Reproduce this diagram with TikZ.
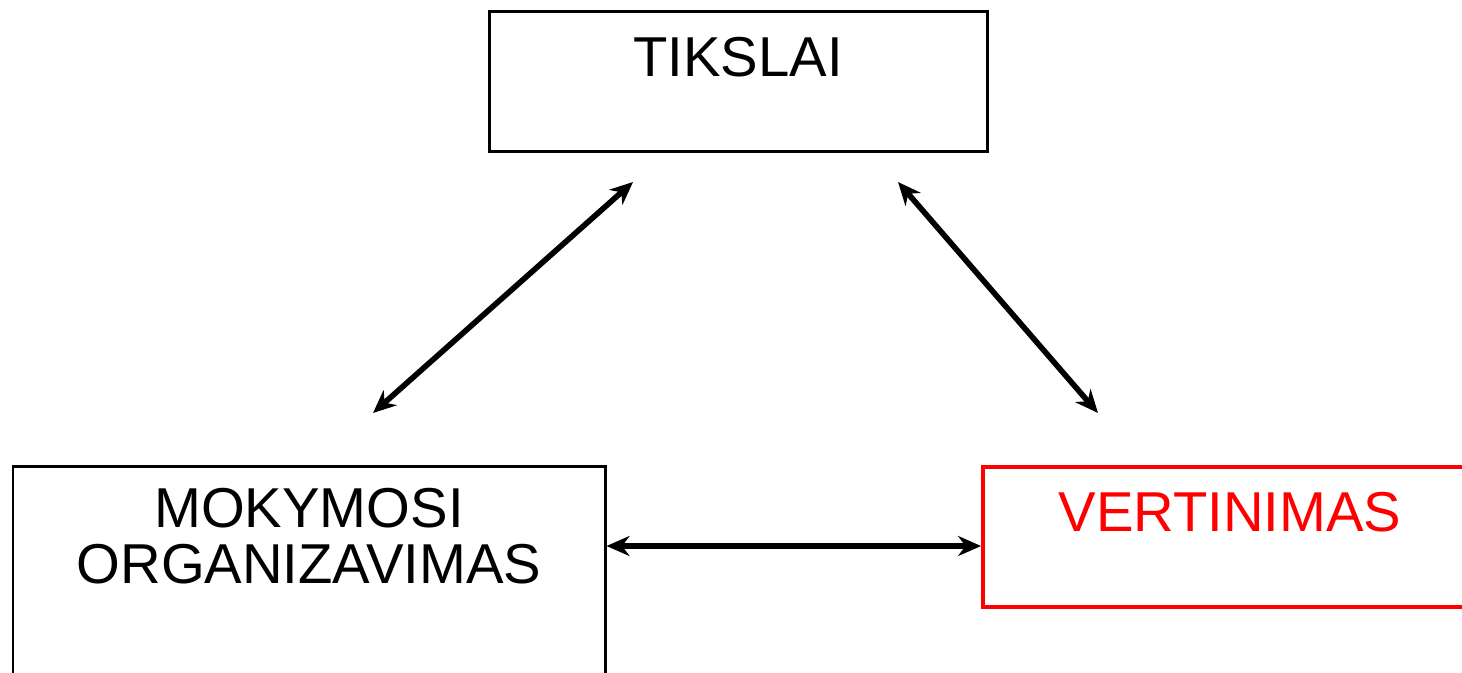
\documentclass[tikz,border=0pt]{standalone}
\usepackage{fontspec}
\setmainfont{Liberation Sans}
\usepackage{xcolor}
\usetikzlibrary{arrows.meta}

\begin{document}
\begin{tikzpicture}[
            > = {Stealth[length=2.3mm, width=2mm]}, % arrow head style
            blok/.style = {draw=black, rectangle, inner sep=0pt, line width=0.85pt,
                           font=\fontsize{16}{16}\selectfont},
            ryssys/.style = {<->, line width=1.6pt} % line style
        ]
\useasboundingbox (0,0) rectangle (14.62,6.72);

\node[blok, anchor=north, minimum width=4.98cm, text height=0.65cm, text depth=0.75cm] (T) at (7.38,6.62) {TIKSLAI};
\node[blok, anchor=north, minimum width=5.92cm, align=center, text height=1.17cm, text depth=1.9cm] (M) at (3.09,2.07) {MOKYMOSI\\ORGANIZAVIMAS};
\node[blok, draw=red, text=red, line width=1.1pt, anchor=north, minimum width=4.94cm, text height=0.65cm, text depth=0.75cm] (V) at (12.30,2.07) {VERTINIMAS};

\coordinate (M_t) at (3.73,2.59);
\coordinate (T_l) at (6.33,4.90);
\coordinate (T_r) at (8.98,4.90);
\coordinate (V_t) at (10.98,2.59);

 \draw [ryssys] (M_t) -- (T_l);
 \draw [ryssys] (T_r) -- (V_t);
 \draw [ryssys] ([yshift=-0.81cm]M.north east) -- ([yshift=-0.81cm]V.north west);
\end{tikzpicture}
\end{document}
